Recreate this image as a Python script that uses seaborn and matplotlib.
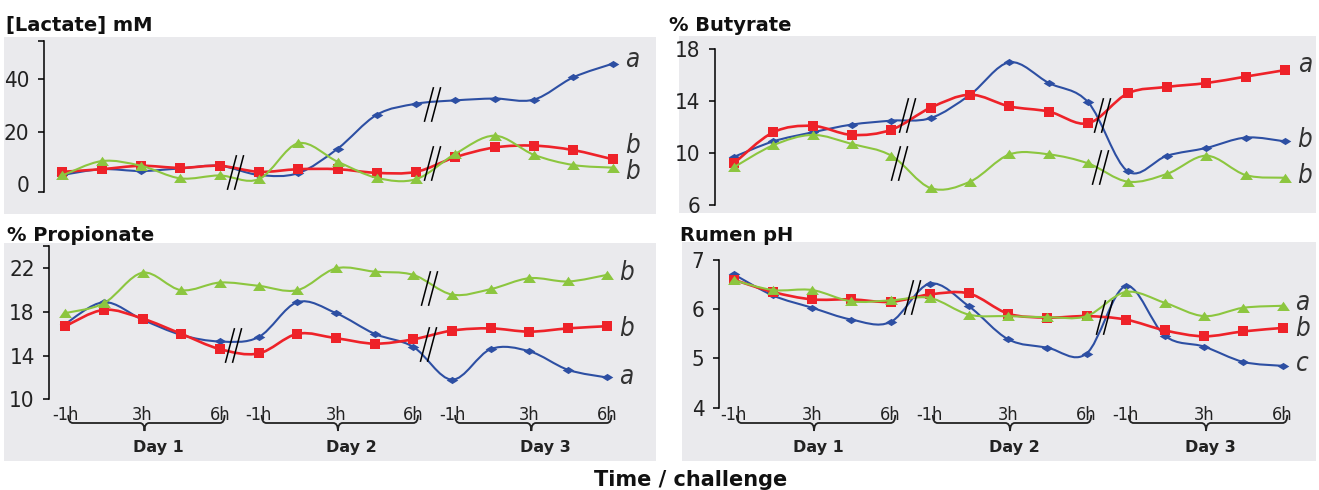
import numpy as np
import pandas as pd
import seaborn as sns
import matplotlib
matplotlib.use("Agg")
import matplotlib.pyplot as plt
from matplotlib.path import Path
from matplotlib.patches import PathPatch, Rectangle
from matplotlib.ticker import FixedLocator
import matplotlib.transforms as mtransforms

# 15 samples: 5 per day (-1h .. 6h) over 3 challenge days
idx = np.arange(15)
tick_pos = [0, 2, 4, 5, 7, 9, 10, 12, 14]
tick_labels = ["-1h", "3h", "6h"] * 3
day_names = ["Day 1", "Day 2", "Day 3"]

lactate_blue = [3.5, 5.7, 5.0, 6.0, 7.0, 3.5, 4.2, 13.5, 26.5, 30.7, 32.0, 32.7, 32.3, 40.8, 46.0]
lactate_red = [4.7, 5.7, 7.0, 6.2, 7.0, 4.7, 5.7, 5.7, 4.3, 4.7, 10.3, 14.0, 14.7, 13.0, 9.5]
lactate_green = [3.3, 8.8, 7.0, 2.2, 3.3, 1.9, 15.6, 8.6, 2.4, 1.9, 11.6, 18.5, 11.2, 7.3, 6.3]

butyrate_blue = [9.7, 10.9, 11.6, 12.2, 12.5, 12.7, 14.5, 17.0, 15.4, 13.9, 8.6, 9.8, 10.4, 11.2, 10.9]
butyrate_red = [9.2, 11.6, 12.1, 11.4, 11.8, 13.5, 14.5, 13.6, 13.2, 12.3, 14.6, 15.1, 15.4, 15.9, 16.4]
butyrate_green = [8.9, 10.6, 11.4, 10.7, 9.8, 7.3, 7.8, 9.9, 9.9, 9.2, 7.8, 8.4, 9.8, 8.3, 8.1]

prop_blue = [16.9, 18.9, 17.3, 15.9, 15.3, 15.7, 18.9, 17.9, 16.0, 14.8, 11.8, 14.6, 14.4, 12.7, 12.0]
prop_red = [16.7, 18.2, 17.4, 16.0, 14.6, 14.2, 16.0, 15.6, 15.1, 15.5, 16.3, 16.5, 16.2, 16.5, 16.7]
prop_green = [17.9, 18.8, 21.6, 20.0, 20.7, 20.4, 20.0, 22.0, 21.7, 21.4, 19.6, 20.1, 21.1, 20.8, 21.4]

ph_blue = [6.71, 6.28, 6.03, 5.79, 5.74, 6.52, 6.06, 5.39, 5.22, 5.10, 6.47, 5.46, 5.24, 4.93, 4.85]
ph_red = [6.60, 6.35, 6.20, 6.20, 6.15, 6.30, 6.32, 5.91, 5.83, 5.86, 5.79, 5.57, 5.45, 5.55, 5.62]
ph_green = [6.59, 6.39, 6.39, 6.16, 6.18, 6.23, 5.89, 5.86, 5.84, 5.86, 6.35, 6.13, 5.86, 6.03, 6.07]

lactate_letters = ["a", "b", "b"]
butyrate_letters = ["a", "b", "b"]
prop_letters = ["b", "b", "a"]
ph_letters = ["a", "b", "c"]

sns.set_style("ticks")
plt.rcParams["font.family"] = ["DejaVu Sans"]

W, H = 1319, 490
BG = "#EAEAED"
BLUE, RED, GREEN = "#2D4FA3", "#EE2229", "#8CC63F"

diamond = Path([(-1, 0), (0, 0.62), (1, 0), (0, -0.62), (-1, 0)])
tri = Path([(-1, -0.7), (1, -0.7), (0, 0.75), (-1, -0.7)])
brk = Path([(-0.47, -1), (0.06, 1), (-0.06, -1), (0.47, 1)],
           [Path.MOVETO, Path.LINETO, Path.MOVETO, Path.LINETO])


def smooth(x, y):
    # bezier path through the points (Excel style smoothed line)
    n = len(x)
    verts = [(x[0], y[0])]
    codes = [Path.MOVETO]
    for i in range(n - 1):
        a = max(i - 1, 0)
        d = min(i + 2, n - 1)
        c1 = (x[i] + (x[i + 1] - x[a]) / 6, y[i] + (y[i + 1] - y[a]) / 6)
        c2 = (x[i + 1] - (x[d] - x[i]) / 6, y[i + 1] - (y[d] - y[i]) / 6)
        verts += [c1, c2, (x[i + 1], y[i + 1])]
        codes += [Path.CURVE4] * 3
    return Path(verts, codes)


fig = plt.figure(figsize=(W / 100, H / 100), dpi=100)

# grey panel backgrounds (l, t, r, b in pixels)
for l, t, r, b in [(4, 37, 656, 214), (679, 36, 1316, 213), (4, 243, 656, 461), (682, 242, 1316, 461)]:
    fig.add_artist(Rectangle((l / W, 1 - b / H), (r - l) / W, (b - t) / H,
                             transform=fig.transFigure, facecolor=BG, edgecolor="none", zorder=-5))

panels = [
    dict(title="[Lactate] mM", tpos=(6, 31), box=(44, 40.7, 647.9, 191.7), xlim=(-0.47, 14.9),
         ylim=(-2.9, 54.8), yticks=[0, 20, 40], minor=[-2.9, 54.8], hide0=True,
         series=(lactate_blue, lactate_red, lactate_green), letters=lactate_letters,
         letter_y=[47.4, 14.6, 4.6], breaks=[(4.4, 4.7), (9.4, 30.5), (9.4, 7.9)], bottom=False),
    dict(title="% Butyrate", tpos=(669, 31), box=(715, 49.3, 1316.8, 205), xlim=(-0.475, 14.8),
         ylim=(6, 18), yticks=[6, 10, 14, 18], minor=[], hide0=False,
         series=(butyrate_blue, butyrate_red, butyrate_green), letters=butyrate_letters,
         letter_y=[16.8, 11.0, 8.2], breaks=[(4.4, 12.9), (4.2, 9.2), (9.35, 12.9), (9.3, 8.9)], bottom=False),
    dict(title="% Propionate", tpos=(7, 241), box=(49.3, 246, 641.6, 399.3), xlim=(-0.41, 14.9),
         ylim=(10, 24.05), yticks=[10, 14, 18, 22], minor=[24.05], hide0=False,
         series=(prop_blue, prop_red, prop_green), letters=prop_letters,
         letter_y=[21.6, 16.4, 12.0], breaks=[(4.33, 15.0), (9.41, 20.2), (9.37, 15.1)], bottom=True,
         dayx=2.4),
    dict(title="Rumen pH", tpos=(680, 241), box=(719, 260, 1313.9, 407.7), xlim=(-0.375, 14.8),
         ylim=(4, 7), yticks=[4, 5, 6, 7], minor=[], hide0=False,
         series=(ph_blue, ph_red, ph_green), letters=ph_letters,
         letter_y=[6.13, 5.6, 4.89], breaks=[(4.56, 6.24), (9.45, 5.85)], bottom=True,
         dayx=2.15),
]

styles = [(BLUE, diamond, 70, 1.5), (RED, "s", 56, 1.9), (GREEN, tri, 85, 1.5)]

for p in panels:
    l, t, r, b = p["box"]
    ax = fig.add_axes([l / W, 1 - b / H, (r - l) / W, (b - t) / H])
    ax.set_facecolor("none")
    for k, (vals, (col, mk, s, lw)) in enumerate(zip(p["series"], styles)):
        df = pd.DataFrame({"t": idx, "v": vals})
        ax.add_patch(PathPatch(smooth(df["t"].values, df["v"].values), facecolor="none",
                               edgecolor=col, lw=lw, zorder=3 + k, capstyle="round"))
        sns.scatterplot(data=df, x="t", y="v", ax=ax, marker=mk, s=s, color=col,
                        linewidth=0, zorder=3.5 + k, legend=False)
    for bx, by in p["breaks"]:
        ax.plot([bx], [by], marker=brk, ms=25, mfc="none", mec="black", mew=1.1,
                linestyle="", zorder=10, clip_on=False)
    for letter, ly in zip(p["letters"], p["letter_y"]):
        ax.text(14.5, ly, letter, ha="center", va="center", fontsize=18.5, style="italic",
                color="#333333", fontstretch="condensed")

    ax.set_xlim(*p["xlim"])
    ax.set_ylim(*p["ylim"])
    ax.set_xlabel("")
    ax.set_ylabel("")
    for side in ["top", "right", "bottom"]:
        ax.spines[side].set_visible(False)
    ax.spines["left"].set_linewidth(1.1)
    ax.spines["left"].set_color("black")
    ax.set_yticks(p["yticks"])
    ax.set_yticklabels([str(v) for v in p["yticks"]], fontstretch="condensed")
    ax.yaxis.set_minor_locator(FixedLocator(p["minor"]))
    ax.tick_params(axis="y", which="both", direction="out", length=4.5, width=1.1,
                   color="black", labelsize=16, labelcolor="#222222", pad=6)
    if p["hide0"]:
        ax.yaxis.get_major_ticks()[0].tick1line.set_visible(False)

    if p["bottom"]:
        pad = (406 - b) * 0.72
        ax.set_xticks(tick_pos)
        ax.set_xticklabels(tick_labels, fontstretch="condensed")
        ax.tick_params(axis="x", length=0, labelsize=13, labelcolor="#222222", pad=pad)
        tr = mtransforms.blended_transform_factory(ax.transData, fig.transFigure)
        yt, yl, yb = 1 - 415 / H, 1 - 423 / H, 1 - 431 / H
        rr = 0.12
        for d in range(3):
            x0, x1 = d * 5 + 0.08, d * 5 + 4.12
            xc = d * 5 + 2.05
            verts = [(x0, yt), (x0, yl), (x0 + rr, yl), (xc - rr, yl), (xc, yl), (xc, yb),
                     (xc, yl), (xc + rr, yl), (x1 - rr, yl), (x1, yl), (x1, yt)]
            codes = [Path.MOVETO, Path.CURVE3, Path.CURVE3, Path.LINETO, Path.CURVE3, Path.CURVE3,
                     Path.CURVE3, Path.CURVE3, Path.LINETO, Path.CURVE3, Path.CURVE3]
            ax.add_patch(PathPatch(Path(verts, codes), transform=tr, facecolor="none",
                                   edgecolor="#222222", lw=1.3, clip_on=False))
            ax.text(d * 5 + p["dayx"], 1 - 452 / H, day_names[d], transform=tr, ha="center",
                    va="baseline", fontsize=11.5, fontweight="bold", color="#222222")
    else:
        ax.set_xticks([])

    fig.text(p["tpos"][0] / W, 1 - p["tpos"][1] / H, p["title"], ha="left", va="baseline",
             fontsize=14, fontweight="bold", color="#111111")

fig.text(691 / W, 1 - 486 / H, "Time / challenge", ha="center", va="baseline",
         fontsize=15, fontweight="bold", color="#111111")

fig.savefig("out.png", dpi=100)
